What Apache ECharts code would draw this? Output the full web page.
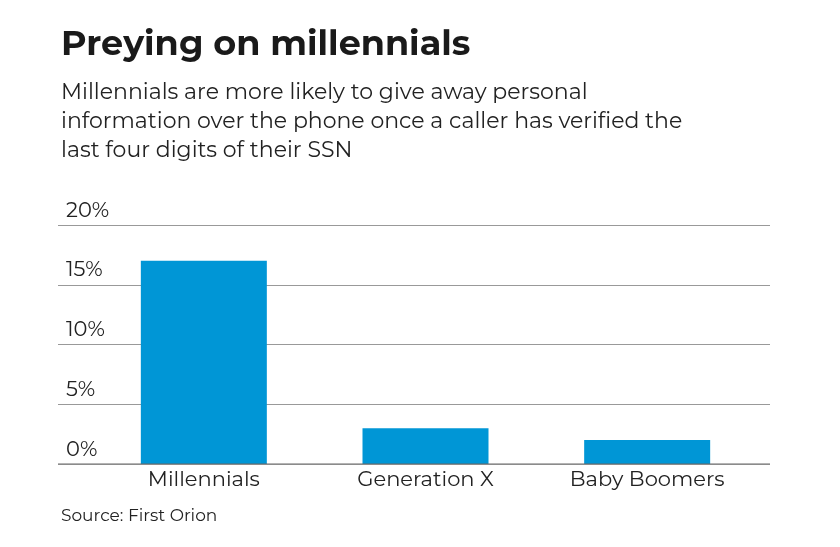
<!DOCTYPE html><html><head><meta charset="utf-8">
<script src="https://cdn.jsdelivr.net/npm/echarts@6/dist/echarts.min.js"></script>
<style>body{margin:0}#c{width:840px;height:547px}</style></head><body><div id="c"></div><script>
const categories=['Millennials','Generation X','Baby Boomers'];
const values=[17,3,2];
const yTicks=[0,5,10,15,20];
const font='Montserrat, "Open Sans", "Noto Sans", sans-serif';
const chart=echarts.init(document.getElementById('c'));
chart.setOption({
 backgroundColor:'#fff',
 title:[
  {text:'Preying on millennials',left:56,top:22,textStyle:{fontSize:35,fontWeight:'bold',color:'#1a1a1a',fontFamily:font}},
  {text:'Millennials are more likely to give away personal\ninformation over the phone once a caller has verified the\nlast four digits of their SSN',left:56,top:73,textStyle:{fontSize:22,fontWeight:'normal',color:'#222',lineHeight:29,fontFamily:font}},
  {text:'Source: First Orion',left:56,top:502,textStyle:{fontSize:17,fontWeight:'normal',color:'#222',fontFamily:font}}
 ],
 grid:[{left:58,right:70,top:225,bottom:83},{left:93,right:82,top:225,bottom:83}],
 xAxis:[
  {gridIndex:0,type:'value',show:false,min:0,max:1},
  {gridIndex:1,type:'category',data:categories,axisTick:{show:false},axisLine:{show:false},
   axisLabel:{fontSize:21,color:'#222',margin:5,fontFamily:font}}
 ],
 yAxis:[
  {gridIndex:0,type:'value',min:0,max:20,interval:5,
   axisLine:{show:false},axisTick:{show:false},
   splitLine:{lineStyle:{color:'#999',width:1}},
   axisLabel:{inside:true,verticalAlign:'bottom',padding:[0,0,4,0],fontSize:21,color:'#222',fontFamily:font,formatter:v=>yTicks.includes(v)?v+'%':''}},
  {gridIndex:1,type:'value',min:0,max:20,show:false}
 ],
 series:[
  {type:'line',xAxisIndex:0,yAxisIndex:0,data:[[0,0],[1,0]],symbol:'none',lineStyle:{color:'#666',width:1},silent:true},
  {type:'bar',xAxisIndex:1,yAxisIndex:1,data:values,barWidth:126,itemStyle:{color:'#0096d6'}}
 ]
});
</script></body></html>
